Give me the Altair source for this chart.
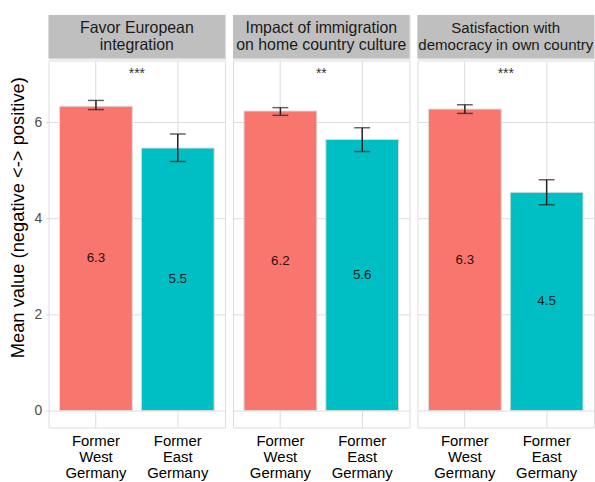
import altair as alt
import pandas as pd

# Survey outcomes by region of origin
topics = [
    "Favor European\nintegration",
    "Impact of immigration\non home country culture",
    "Satisfaction with\ndemocracy in own country",
]
regions = ["Former West Germany", "Former East Germany"]
means = [[6.33, 5.46], [6.23, 5.64], [6.27, 4.54]]
lows = [[6.26, 5.18], [6.14, 5.39], [6.18, 4.28]]
highs = [[6.45, 5.75], [6.30, 5.88], [6.36, 4.80]]
stars = ["***", "**", "***"]
y_ticks = [0, 2, 4, 6]

colors = ["#F8766D", "#00BFC4"]
W = 178
STRIP_H = 44
PLOT_H = 370
FONT = "Liberation Sans"
strip_font = [16, 16, 15.2]  # longest heading is set a touch smaller to stay inside its strip
y_scale = alt.Scale(domain=[-0.35, 7.28], nice=False, zero=False)


def panel(i):
    df = pd.DataFrame({
        "region": regions,
        "mean": means[i],
        "lo": lows[i],
        "hi": highs[i],
    })
    df["half"] = df["mean"] / 2

    if i == 0:
        y_axis = alt.Axis(values=y_ticks, title="Mean value (negative <-> positive)",
                          domain=False, tickSize=3, tickColor="#D9D9D9",
                          labelFontSize=14, labelColor="#4D4D4D", labelPadding=4,
                          titleFontSize=18.5, titleFontWeight="normal", titleColor="#000000",
                          titlePadding=7, titleY=158, grid=True)
    else:
        y_axis = alt.Axis(values=y_ticks, title=None, labels=False, ticks=False,
                          domain=False, grid=True)

    x_enc = alt.X(
        "region:N", sort=regions,
        scale=alt.Scale(domain=regions, paddingInner=0.11, paddingOuter=0.134),
        axis=alt.Axis(title=None, labelAngle=0, domain=False, ticks=False,
                      labelExpr="split(datum.label, ' ')", labelFontSize=15,
                      labelLineHeight=16, labelColor="#000000", labelPadding=6,
                      grid=True, bandPosition=0.5),
    )

    base = alt.Chart(df)
    bars = base.mark_bar(stroke="#DDDDDD", strokeWidth=1).encode(
        x=x_enc,
        y=alt.Y("mean:Q", scale=y_scale, axis=y_axis),
        y2=alt.datum(0),
        color=alt.Color("region:N", scale=alt.Scale(domain=regions, range=colors), legend=None),
    )
    rule = base.mark_rule(color="#222222", strokeWidth=1.5).encode(
        x=alt.X("region:N", sort=regions), y="lo:Q", y2="hi:Q"
    )
    cap_lo = base.mark_tick(color="#222222", size=16, thickness=1.5).encode(
        x=alt.X("region:N", sort=regions), y="lo:Q"
    )
    cap_hi = base.mark_tick(color="#222222", size=16, thickness=1.5).encode(
        x=alt.X("region:N", sort=regions), y="hi:Q"
    )
    labels = base.mark_text(fontSize=13.5, font=FONT, color="#000000", opacity=0.85).encode(
        x=alt.X("region:N", sort=regions),
        y="half:Q",
        text=alt.Text("mean:Q", format=".1f"),
    )
    sig = alt.Chart(pd.DataFrame({"s": [stars[i]]})).mark_text(
        fontSize=14, font=FONT, color="#333333"
    ).encode(x=alt.value(W / 2), y=alt.datum(7.0), text="s:N")

    plot = alt.layer(bars, rule, cap_lo, cap_hi, labels, sig).properties(width=W, height=PLOT_H)

    strip_df = pd.DataFrame({"t": [topics[i]]})
    strip_bg = alt.Chart(strip_df).mark_rect(color="#BFBFBF").encode(
        x=alt.value(0), x2=alt.value(W), y=alt.value(0), y2=alt.value(STRIP_H)
    )
    strip_txt = alt.Chart(strip_df).mark_text(
        lineBreak="\n", fontSize=strip_font[i], lineHeight=17.5, font=FONT, color="#1A1A1A",
        baseline="middle",
    ).encode(x=alt.value(W / 2), y=alt.value(STRIP_H / 2 - 8.75), text="t:N")
    strip = alt.layer(strip_bg, strip_txt).properties(width=W, height=STRIP_H)

    return alt.vconcat(strip, plot, spacing=0)


chart = alt.hconcat(*[panel(i) for i in range(3)], spacing=6).properties(
    padding={"left": 7, "top": 12, "right": 0, "bottom": 0}
).configure_view(
    stroke="#D9D9D9", strokeWidth=1
).configure_axis(
    gridColor="#D3D3D3", gridDash=[1, 3], gridWidth=1,
    labelFont=FONT, titleFont=FONT,
).configure(background="white")

chart.save("out.html", embed_options={"renderer": "svg", "actions": False})
